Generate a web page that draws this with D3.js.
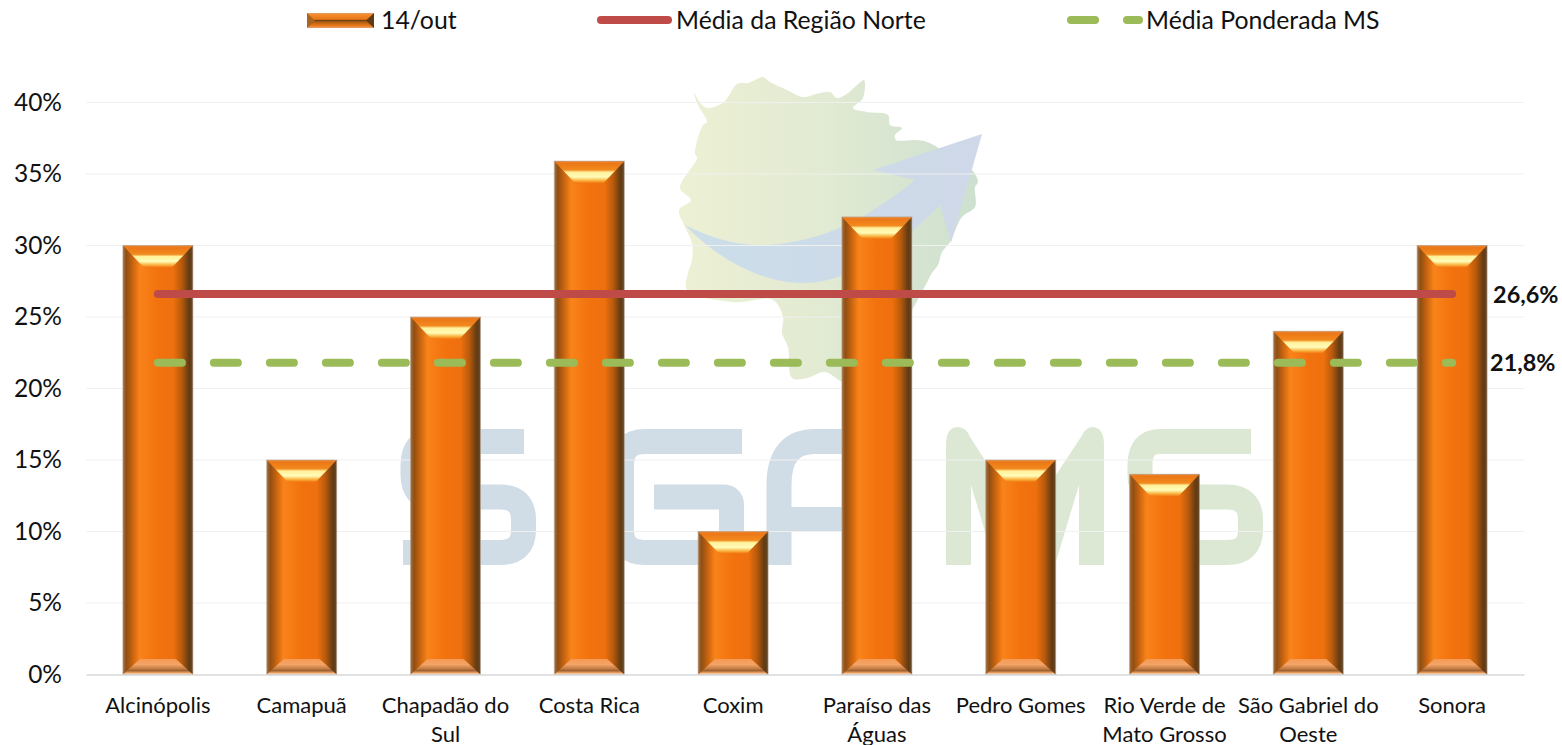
<!DOCTYPE html>
<html>
<head>
<meta charset="utf-8">
<script src="https://cdn.jsdelivr.net/npm/d3@7"></script>
<style>
    html, body { margin: 0; padding: 0; background: #fff; }
    svg { display: block; }
    text { font-family: Lato, "Open Sans", sans-serif; fill: #111; }
</style>
</head>
<body>
<div id="chart"></div>
<script>
// values
const categories = ["Alcinópolis", "Camapuã", "Chapadão do Sul", "Costa Rica", "Coxim",
    "Paraíso das Águas", "Pedro Gomes", "Rio Verde de Mato Grosso", "São Gabriel do Oeste", "Sonora"];
const categoryLines = [["Alcinópolis"], ["Camapuã"], ["Chapadão do", "Sul"], ["Costa Rica"], ["Coxim"],
    ["Paraíso das", "Águas"], ["Pedro Gomes"], ["Rio Verde de", "Mato Grosso"], ["São Gabriel do", "Oeste"], ["Sonora"]];
const barValues = [30, 15, 25, 35.9, 10, 32, 15, 14, 24, 30];
const mediaNorte = [26.6, 26.6, 26.6, 26.6, 26.6, 26.6, 26.6, 26.6, 26.6, 26.6];
const mediaMS = [21.8, 21.8, 21.8, 21.8, 21.8, 21.8, 21.8, 21.8, 21.8, 21.8];
const yTicks = [0, 5, 10, 15, 20, 25, 30, 35, 40];
const barName = "14/out";
const norteName = "Média da Região Norte";
const msName = "Média Ponderada MS";

const width = 1562;
const height = 745;
const margin = { top: 102.5, right: 38, bottom: 70.5, left: 86 };

const svg = d3.select("#chart")
    .append("svg")
    .attr("width", width)
    .attr("height", height);

const defs = svg.append("defs");

function addGradient(id, horizontal, stops) {
    const g = defs.append("linearGradient")
        .attr("id", id)
        .attr("x1", 0).attr("y1", 0)
        .attr("x2", horizontal ? 1 : 0)
        .attr("y2", horizontal ? 0 : 1);
    stops.forEach(s => g.append("stop").attr("offset", s[0]).attr("stop-color", s[1]));
}

addGradient("barBody", true, [[0, "#a8703f"], [0.05, "#8f4f14"], [0.14, "#c9640f"], [0.24, "#f9831a"],
    [0.5, "#f2720e"], [0.72, "#ee700e"], [0.84, "#b85a0c"], [0.95, "#5f3a14"], [1, "#6b4a2c"]]);
addGradient("barTop", false, [[0, "#e98a3c"], [0.1, "#ec7716"], [0.4, "#f28a1e"], [0.5, "#fff09a"],
    [0.72, "#fffcb8"], [0.88, "#f9b544"], [1, "#f2750f"]]);
addGradient("barBottom", false, [[0, "#f49a52"], [0.35, "#f4a468"], [0.6, "#c98146"], [0.75, "#9c6232"],
    [0.88, "#eb9a5c"], [1, "#fff2de"]]);
addGradient("keyBody", false, [[0, "#e0a070"], [0.12, "#f58a2a"], [0.42, "#e8761a"], [0.5, "#6f4212"],
    [0.58, "#a95a12"], [0.85, "#ec7a1a"], [1, "#e0a070"]]);
addGradient("mapFill", true, [[0, "#edf0d4"], [0.5, "#e1ead2"], [1, "#cde0cf"]]);
addGradient("arrowFill", true, [[0, "#cbdeea"], [1, "#cfd8e8"]]);

// background watermark (state outline, arrow, SGA MS logo)
const mark = svg.append("g").attr("class", "watermark");

const mapOutline = [[694, 93], [698, 105], [707, 122], [703, 125], [695, 153], [697, 158], [680, 188], [691, 200],
    [679, 210], [685, 227], [692, 243], [692, 260], [688, 273], [687, 290], [733, 302], [773, 300], [783, 317],
    [782, 333], [788, 347], [792, 378], [807, 378], [825, 372], [843, 382], [860, 382], [900, 330], [923, 290],
    [932, 273], [938, 265], [942, 252], [950, 242], [962, 217], [975, 207], [975, 187], [978, 182], [972, 170],
    [950, 155], [927, 142], [915, 140], [896, 140], [895, 135], [902, 128], [890, 125], [888, 115], [867, 112],
    [853, 108], [863, 98], [864, 80], [857, 85], [848, 93], [837, 98], [830, 92], [820, 93], [803, 97], [787, 90],
    [770, 82], [763, 77], [755, 80], [748, 83], [737, 84], [728, 97], [723, 103], [708, 108], [702, 105]];
mark.append("path")
    .attr("d", d3.line().curve(d3.curveCatmullRomClosed.alpha(0.5))(mapOutline))
    .attr("fill", "url(#mapFill)");

mark.append("path")
    .attr("d", "M982,134 L873,170 L915,180 C860,225 810,245 760,245 C730,245 705,235 685,225 " +
        "C720,262 765,283 803,283 C850,283 895,250 940,205 L951,243 Z")
    .attr("fill", "url(#arrowFill)");

const sShape = "M0,12.5 H-91 Q-111,12.5 -111,36 V46 Q-111,68 -91,68 H-24 Q-0.5,68 -0.5,91 V101 " +
    "Q-0.5,123.5 -24,123.5 H-121";
mark.append("path").attr("d", sShape).attr("transform", "translate(524,429)")
    .attr("fill", "none").attr("stroke", "#d0dce6").attr("stroke-width", 25);
mark.append("path").attr("d", "M742,441.5 H645 Q621.5,441.5 621.5,465 V530 Q621.5,552.5 645,552.5 H723 Q731.5,552.5 731.5,540 V505 Q731.5,497 723,497 H654")
    .attr("fill", "none").attr("stroke", "#d0dce6").attr("stroke-width", 25);
mark.append("path").attr("d", "M779,565 V485 Q779,441.5 815,441.5 H860 M779,519.5 H860")
    .attr("fill", "none").attr("stroke", "#d0dce6").attr("stroke-width", 25);
mark.append("path")
    .attr("d", "M946,565 V445 Q946,427 958,427 Q966,427 970,437 L1025,522 L1081,437 Q1086,427 1092,427 " +
        "Q1104,427 1104,445 V565 H1079 V485 L1055,565 H995 L971,485 V565 Z")
    .attr("fill", "#dce8d4");
mark.append("path").attr("d", sShape).attr("transform", "translate(1251,429)")
    .attr("fill", "none").attr("stroke", "#dce8d4").attr("stroke-width", 25);

// scales
const xScale = d3.scaleBand()
    .domain(categories)
    .range([margin.left, width - margin.right])
    .paddingInner(0.513)
    .paddingOuter(0.2565);

const yScale = d3.scaleLinear()
    .domain([0, 40])
    .range([height - margin.bottom, margin.top]);

// gridlines
svg.append("g")
    .selectAll("line")
    .data(yTicks.filter(d => d > 0))
    .enter().append("line")
    .attr("x1", margin.left)
    .attr("x2", width - margin.right)
    .attr("y1", d => yScale(d))
    .attr("y2", d => yScale(d))
    .attr("stroke", "#f0f0f0")
    .attr("stroke-width", 1.2);

// y axis
const yAxis = svg.append("g")
    .attr("transform", "translate(" + margin.left + ",0)")
    .call(d3.axisLeft(yScale).tickValues(yTicks).tickFormat(d => d + "%").tickSize(0).tickPadding(24));
yAxis.select(".domain").remove();
yAxis.selectAll("text").style("font-size", "24.5px").style("font-family", "Lato").attr("fill", "#111");

// bars, each one a body with a bevel on top and bottom
const bw = xScale.bandwidth();
const bars = svg.selectAll(".bar")
    .data(barValues)
    .enter().append("g")
    .attr("class", "bar")
    .attr("transform", (d, i) => "translate(" + xScale(categories[i]) + "," + yScale(d) + ")");

bars.append("rect")
    .attr("width", bw)
    .attr("height", d => yScale(0) - yScale(d))
    .attr("fill", "url(#barBody)");

bars.append("path")
    .attr("d", "M0,0 H" + bw + " L" + (bw - 21) + ",22 H21 Z")
    .attr("fill", "url(#barTop)");

bars.append("path")
    .attr("transform", d => "translate(0," + (yScale(0) - yScale(d)) + ")")
    .attr("d", "M17,-15.5 H" + (bw - 17) + " L" + bw + ",0 H0 Z")
    .attr("fill", "url(#barBottom)");

bars.append("rect")
    .attr("width", bw)
    .attr("height", d => yScale(0) - yScale(d))
    .attr("fill", "none")
    .attr("stroke", "#b9a99a")
    .attr("stroke-opacity", 0.6);

// x axis
const xAxis = svg.append("g")
    .attr("transform", "translate(0," + yScale(0) + ")")
    .call(d3.axisBottom(xScale).tickSize(0).tickPadding(0));
xAxis.select(".domain").attr("stroke", "#d9d9d9").attr("stroke-width", 1.5);
xAxis.selectAll("text").each(function (d, i) {
    const t = d3.select(this).text(null).attr("y", 0).attr("dy", null)
        .style("font-size", "22px").style("font-family", "Lato").attr("fill", "#111");
    categoryLines[i].forEach((l, j) => {
        t.append("tspan").attr("x", 0).attr("y", 38 + j * 29).text(l);
    });
});

// lines
const lineGen = d3.line()
    .x((d, i) => xScale(categories[i]) + bw / 2)
    .y(d => yScale(d));

svg.append("path")
    .attr("d", lineGen(mediaNorte))
    .attr("fill", "none")
    .attr("stroke", "#be4b48")
    .attr("stroke-width", 8)
    .attr("stroke-linecap", "round");

svg.append("path")
    .attr("d", lineGen(mediaMS))
    .attr("fill", "none")
    .attr("stroke", "#9bbb59")
    .attr("stroke-width", 8)
    .attr("stroke-linecap", "round")
    .attr("stroke-dasharray", "24 32");

// end labels
const lastX = xScale(categories[9]) + bw / 2;
svg.append("text")
    .attr("x", lastX + 41)
    .attr("y", yScale(mediaNorte[9]) + 9)
    .style("font-size", "23.4px").style("font-weight", 700)
    .attr("fill", "#000")
    .text("26,6%");
svg.append("text")
    .attr("x", lastX + 38)
    .attr("y", yScale(mediaMS[9]) + 8)
    .style("font-size", "23.4px").style("font-weight", 700)
    .attr("fill", "#000")
    .text("21,8%");

// legend
const legend = svg.append("g").attr("class", "legend");

legend.append("rect")
    .attr("x", 307).attr("y", 13).attr("width", 67).attr("height", 15)
    .attr("fill", "url(#keyBody)");
legend.append("path").attr("d", "M307,13 L315,20.5 L307,28 Z").attr("fill", "#a8651f");
legend.append("path").attr("d", "M374,13 L366,20.5 L374,28 Z").attr("fill", "#5f3a14");

legend.append("line")
    .attr("x1", 601).attr("x2", 668).attr("y1", 20).attr("y2", 20)
    .attr("stroke", "#be4b48").attr("stroke-width", 8).attr("stroke-linecap", "round");
legend.append("line")
    .attr("x1", 1071).attr("x2", 1139).attr("y1", 20).attr("y2", 20)
    .attr("stroke", "#9bbb59").attr("stroke-width", 8).attr("stroke-linecap", "round")
    .attr("stroke-dasharray", "24 32");

legend.selectAll("text")
    .data([[barName, 381], [norteName, 676], [msName, 1146]])
    .enter().append("text")
    .attr("x", d => d[1])
    .attr("y", 29)
    .style("font-size", "24.8px")
    .text(d => d[0]);
</script>
</body>
</html>
